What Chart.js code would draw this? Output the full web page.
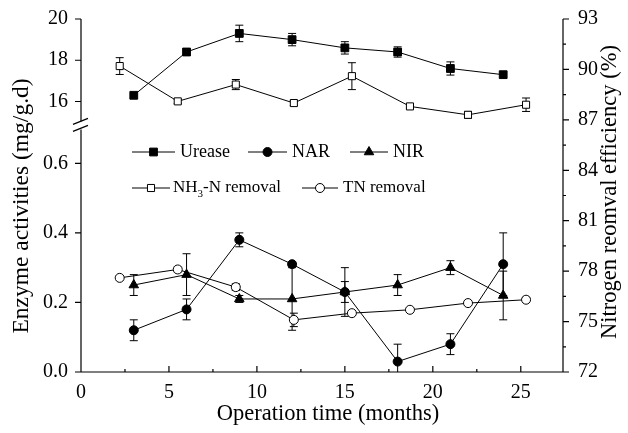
<!DOCTYPE html>
<html>
<head>
<meta charset="utf-8">
<script src="https://cdn.jsdelivr.net/npm/chart.js@4.4.0/dist/chart.umd.min.js"></script>
<style>
  html, body { margin: 0; padding: 0; background: #fff; }
  #wrap { width: 628px; height: 433px; }
</style>
</head>
<body>
<div id="wrap"><canvas id="chart"></canvas></div>
<script>
// enzyme sampling months and values (left axis)
const enzMonths = [3, 6, 9, 12, 15, 18, 21, 24];
const urease = [16.3, 18.4, 19.3, 19.0, 18.6, 18.4, 17.6, 17.3];
const ureaseErr = [0, 0.15, 0.4, 0.3, 0.3, 0.25, 0.32, 0];
const nar = [0.12, 0.18, 0.38, 0.31, 0.23, 0.03, 0.08, 0.31];
const narErr = [0.03, 0.03, 0.02, 0, 0.07, 0.05, 0.03, 0.09];
const nir = [0.25, 0.28, 0.21, 0.21, 0.23, 0.25, 0.30, 0.22];
const nirErr = [0.03, 0.06, 0.01, 0.09, 0.03, 0.03, 0.02, 0.07];

// removal efficiency months and values (right axis)
const remMonths = [2.2, 5.5, 8.8, 12.1, 15.4, 18.7, 22.0, 25.3];
const nh3Removal = [90.2, 88.1, 89.1, 88.0, 89.6, 87.8, 87.3, 87.9];
const nh3Err = [0.5, 0.12, 0.3, 0.15, 0.8, 0.1, 0.2, 0.4];
const tnRemoval = [77.6, 78.1, 77.05, 75.1, 75.5, 75.7, 76.1, 76.3];
const tnErr = [0, 0.15, 0.2, 0.4, 0, 0, 0, 0.15];

// tick labels
const xTicks = [0, 5, 10, 15, 20, 25];
const topTicks = [16, 18, 20];
const bottomTicks = [0, 0.2, 0.4, 0.6];
const rightTicks = [72, 75, 78, 81, 84, 87, 90, 93];

const serif = '"Liberation Serif", "Times New Roman", "DejaVu Serif", serif';

const pts = (xs, ys) => xs.map((x, i) => ({ x: x, y: ys[i] }));

const errorSets = [
    { xs: enzMonths, ys: urease, err: ureaseErr, axis: 'yTop' },
    { xs: enzMonths, ys: nar, err: narErr, axis: 'yBot' },
    { xs: enzMonths, ys: nir, err: nirErr, axis: 'yBot' },
    { xs: remMonths, ys: nh3Removal, err: nh3Err, axis: 'yRight' },
    { xs: remMonths, ys: tnRemoval, err: tnErr, axis: 'yRight' }
];

function legendItem(ctx, x0, x1, y, style, fill, r, label, size) {
    ctx.strokeStyle = '#000';
    ctx.lineWidth = 1;
    ctx.beginPath();
    ctx.moveTo(x0, y);
    ctx.lineTo(x1, y);
    ctx.stroke();
    ctx.fillStyle = fill;
    Chart.helpers.drawPoint(ctx, { pointStyle: style, radius: r, borderWidth: 1, rotation: 0 }, (x0 + x1) / 2, y);
    ctx.fillStyle = '#000';
    ctx.font = size + 'px ' + serif;
    ctx.textAlign = 'left';
    ctx.textBaseline = 'middle';
    if (label === 'NH3') {
        let x = x1 + 3;
        ctx.fillText('NH', x, y);
        x += ctx.measureText('NH').width;
        ctx.font = '11px ' + serif;
        ctx.fillText('3', x, y + 6);
        x += ctx.measureText('3').width;
        ctx.font = size + 'px ' + serif;
        ctx.fillText('-N removal', x, y);
    } else {
        ctx.fillText(label, x1 + 5, y);
    }
}

const framePlugin = {
    id: 'framePlugin',
    beforeDatasetsDraw(chart) {
        const ctx = chart.ctx;
        const sx = chart.scales.x;
        const a = chart.chartArea;
        ctx.save();
        ctx.beginPath();
        ctx.rect(a.left, a.top, a.right - a.left, a.bottom - a.top);
        ctx.clip();
        ctx.strokeStyle = '#000';
        ctx.lineWidth = 1;
        errorSets.forEach(s => {
            const sy = chart.scales[s.axis];
            s.xs.forEach((xv, i) => {
                if (!s.err[i]) return;
                const px = sx.getPixelForValue(xv);
                const p1 = sy.getPixelForValue(s.ys[i] - s.err[i]);
                const p2 = sy.getPixelForValue(s.ys[i] + s.err[i]);
                ctx.beginPath();
                ctx.moveTo(px, p1); ctx.lineTo(px, p2);
                ctx.moveTo(px - 4, p1); ctx.lineTo(px + 4, p1);
                ctx.moveTo(px - 4, p2); ctx.lineTo(px + 4, p2);
                ctx.stroke();
            });
        });
        ctx.restore();
    },
    afterDraw(chart) {
        const ctx = chart.ctx;
        const { left, right, top, bottom } = chart.chartArea;
        const sx = chart.scales.x;
        const yt = chart.scales.yTop;
        const yb = chart.scales.yBot;
        const yr = chart.scales.yRight;
        const joint = yt.bottom;
        ctx.save();
        ctx.strokeStyle = '#000';
        ctx.lineWidth = 1.2;
        ctx.beginPath();
        // axis lines
        ctx.moveTo(left, bottom); ctx.lineTo(right, bottom);
        ctx.moveTo(right, bottom); ctx.lineTo(right, top);
        ctx.moveTo(left, top); ctx.lineTo(left, joint - 4);
        ctx.moveTo(left, joint + 4); ctx.lineTo(left, bottom);
        // x ticks, inward
        xTicks.forEach(v => {
            const px = sx.getPixelForValue(v);
            ctx.moveTo(px, bottom); ctx.lineTo(px, bottom - 6);
            const m = sx.getPixelForValue(v + 2.5);
            if (v + 2.5 < sx.max) { ctx.moveTo(m, bottom); ctx.lineTo(m, bottom - 3); }
        });
        // left ticks, outward
        topTicks.forEach(v => {
            const py = yt.getPixelForValue(v);
            ctx.moveTo(left, py); ctx.lineTo(left - 6, py);
        });
        bottomTicks.forEach(v => {
            const py = yb.getPixelForValue(v);
            ctx.moveTo(left, py); ctx.lineTo(left - 6, py);
        });
        // right ticks, outward with minors
        rightTicks.forEach(v => {
            const py = yr.getPixelForValue(v);
            ctx.moveTo(right, py); ctx.lineTo(right + 6, py);
            if (v + 1.5 < yr.max) {
                const m = yr.getPixelForValue(v + 1.5);
                ctx.moveTo(right, m); ctx.lineTo(right + 3, m);
            }
        });
        ctx.stroke();
        // axis break marks
        ctx.beginPath();
        ctx.moveTo(left - 8, joint - 1); ctx.lineTo(left + 7, joint - 7);
        ctx.moveTo(left - 8, joint + 6); ctx.lineTo(left + 7, joint);
        ctx.stroke();

        // legend
        legendItem(ctx, 132, 175, 152, 'rect', '#000', 5.5, 'Urease', 18);
        legendItem(ctx, 248, 287, 152, 'circle', '#000', 4.5, 'NAR', 18);
        legendItem(ctx, 350, 388, 152, 'triangle', '#000', 5.5, 'NIR', 18);
        legendItem(ctx, 132, 170, 188, 'rect', '#fff', 5, 'NH3', 17);
        legendItem(ctx, 302, 338, 188, 'circle', '#fff', 4.5, 'TN removal', 17);

        // axis titles
        ctx.fillStyle = '#000';
        ctx.textAlign = 'center';
        ctx.textBaseline = 'middle';
        ctx.font = '22.5px ' + serif;
        ctx.fillText('Operation time (months)', (left + right) / 2 + 6, 414);
        ctx.save();
        ctx.font = '23.5px ' + serif;
        ctx.translate(22, 206);
        ctx.rotate(-Math.PI / 2);
        ctx.fillText('Enzyme activities (mg/g.d)', 0, 0);
        ctx.restore();
        ctx.save();
        ctx.font = '22.5px ' + serif;
        ctx.translate(610, 192);
        ctx.rotate(-Math.PI / 2);
        ctx.fillText('Nitrogen reomval efficiency (%)', 0, 0);
        ctx.restore();
        ctx.restore();
    }
};

function lineSet(label, data, axis, style, fill, r) {
    return {
        label: label,
        data: data,
        yAxisID: axis,
        borderColor: '#000',
        borderWidth: 1,
        pointStyle: style,
        pointRadius: r,
        pointBackgroundColor: fill,
        pointBorderColor: '#000',
        pointBorderWidth: 1,
        tension: 0,
        fill: false
    };
}

const tickFont = { family: serif, size: 20 };
const fixTicks = list => scale => { scale.ticks = list.map(v => ({ value: v })); };

new Chart(document.getElementById('chart'), {
    type: 'line',
    data: {
        datasets: [
            lineSet('NH3-N removal', pts(remMonths, nh3Removal), 'yRight', 'rect', '#fff', 5),
            lineSet('TN removal', pts(remMonths, tnRemoval), 'yRight', 'circle', '#fff', 4.5),
            lineSet('Urease', pts(enzMonths, urease), 'yTop', 'rect', '#000', 5.5),
            lineSet('NAR', pts(enzMonths, nar), 'yBot', 'circle', '#000', 4.5),
            lineSet('NIR', pts(enzMonths, nir), 'yBot', 'triangle', '#000', 5.5)
        ]
    },
    options: {
        responsive: true,
        maintainAspectRatio: false,
        animation: false,
        layout: { padding: { top: 17, left: 0, right: 0, bottom: 0 } },
        plugins: {
            legend: { display: false },
            tooltip: { enabled: false }
        },
        scales: {
            x: {
                type: 'linear',
                min: 0,
                max: 27.4,
                afterBuildTicks: fixTicks(xTicks),
                afterFit: s => { s.height = 61; },
                grid: { display: false },
                border: { display: false },
                ticks: { color: '#000', font: tickFont, padding: 1, maxRotation: 0 }
            },
            yBot: {
                type: 'linear',
                position: 'left',
                stack: 'left',
                stackWeight: 248,
                min: 0,
                max: 0.709,
                afterBuildTicks: fixTicks(bottomTicks),
                afterFit: s => { s.width = 81; },
                grid: { display: false },
                border: { display: false },
                ticks: { color: '#000', font: tickFont, padding: 5, callback: v => v.toFixed(1) }
            },
            yTop: {
                type: 'linear',
                position: 'left',
                stack: 'left',
                stackWeight: 107,
                min: 14.84,
                max: 20,
                afterBuildTicks: fixTicks(topTicks),
                afterFit: s => { s.width = 81; },
                grid: { display: false },
                border: { display: false },
                ticks: { color: '#000', font: tickFont, padding: 5 }
            },
            yRight: {
                type: 'linear',
                position: 'right',
                min: 72,
                max: 93,
                afterBuildTicks: fixTicks(rightTicks),
                afterFit: s => { s.width = 65; },
                grid: { display: false },
                border: { display: false },
                ticks: { color: '#000', font: tickFont, padding: 7 }
            }
        }
    },
    plugins: [framePlugin]
});
</script>
</body>
</html>
